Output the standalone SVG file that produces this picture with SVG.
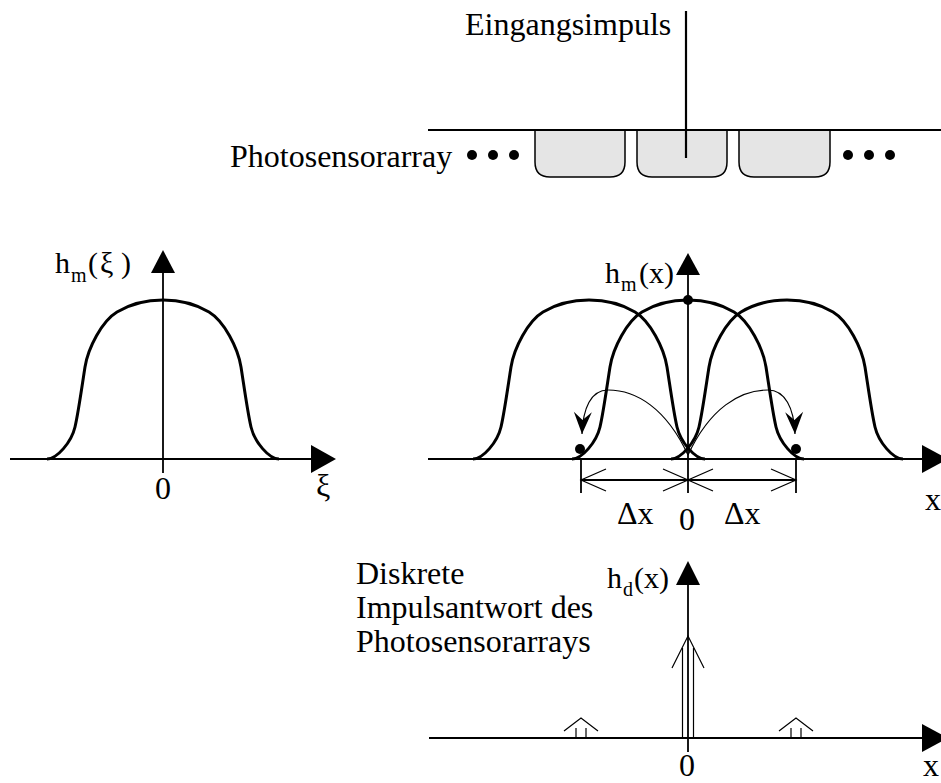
<svg xmlns="http://www.w3.org/2000/svg" width="941" height="783" viewBox="0 0 941 783">
<style>
text{font-family:"Liberation Serif","Times New Roman",serif;fill:#000}
.t{font-size:32px}
.lb{font-size:30px}
.sub{font-size:20px}
.ax{stroke:#000;stroke-width:1.8;fill:none}
.thin{stroke:#000;stroke-width:1.2;fill:none}
.curve{stroke:#000;stroke-width:3;fill:none}
.head{fill:#000;stroke:none}
.box{fill:#e5e5e5;stroke:#000;stroke-width:1.5}
</style>
<defs>
<path id="hump" d="M -116,0 C -106,0 -91.5,-17 -88,-32 C -84.5,-47 -81,-73 -78,-92 C -75,-111 -61,-138 -46,-147 C -31,-156 -15,-159 0,-159 C 15,-159 31,-156 46,-147 C 61,-138 75,-111 78,-92 C 81,-73 84.5,-47 88,-32 C 91.5,-17 106,0 116,0"/>
<marker id="barb" markerUnits="userSpaceOnUse" viewBox="-24 -10 26 20" refX="0" refY="0" markerWidth="26" markerHeight="20" orient="auto">
<path d="M0,0 L-22,-9 L-14,0 L-22,9 Z" fill="#000"/>
</marker>
</defs>
<rect width="941" height="783" fill="#fff"/>

<g id="sensor-array">
<path class="box" d="M535,130 V162 Q535,177 550,177 H610 Q625,177 625,162 V130 Z"/>
<path class="box" d="M637,130 V162 Q637,177 652,177 H712 Q727,177 727,162 V130 Z"/>
<path class="box" d="M739,130 V162 Q739,177 754,177 H815 Q830,177 830,162 V130 Z"/>
<line class="ax" x1="428" y1="130" x2="941" y2="130"/>
<circle cx="472" cy="155" r="5"/><circle cx="493" cy="155" r="5"/><circle cx="514" cy="155" r="5"/>
<circle cx="848" cy="155" r="5"/><circle cx="869" cy="155" r="5"/><circle cx="890" cy="155" r="5"/>
<text class="t" x="230" y="167">Photosensorarray</text>
</g>

<g id="input-impulse">
<line class="ax" x1="686" y1="11" x2="686" y2="158" style="stroke-width:2.2"/>
<text class="t" x="465" y="35">Eingangsimpuls</text>
</g>

<g id="plot-left">
<line class="ax" x1="10" y1="459" x2="312" y2="459"/>
<polygon class="head" points="311,445 336,459 311,473"/>
<line class="ax" x1="163" y1="270" x2="163" y2="473"/>
<polygon class="head" points="163,250 151,273 175,273"/>
<use href="#hump" class="curve" transform="translate(163,459)"/>
<text class="lb" x="55" y="273">h</text>
<text class="sub" x="71" y="282">m</text>
<text class="lb" x="88" y="273">(</text>
<text class="lb" x="100" y="273">ξ</text>
<text class="lb" x="121" y="273">)</text>
<text class="t" x="155" y="499">0</text>
<text class="t" x="316" y="496">ξ</text>
</g>

<g id="plot-middle">
<line class="ax" x1="428" y1="459" x2="924" y2="459"/>
<polygon class="head" points="922,445 948,459 922,473"/>
<line class="ax" x1="688" y1="270" x2="688" y2="493"/>
<polygon class="head" points="688,253 676,275 700,275"/>
<use href="#hump" class="curve" transform="translate(589,459)"/>
<use href="#hump" class="curve" transform="translate(688,459)"/>
<use href="#hump" class="curve" transform="translate(787,459)"/>
<circle cx="688" cy="300" r="5"/>
<circle cx="580" cy="449" r="5"/>
<circle cx="796" cy="449" r="5"/>
<text class="lb" x="605" y="283">h</text>
<text class="sub" x="621" y="291">m</text>
<text class="lb" x="639" y="283">(x)</text>
<text class="t" x="925" y="510">x</text>
</g>

<g id="dimension">
<line class="ax" x1="581" y1="459" x2="581" y2="493"/>
<line class="ax" x1="796" y1="459" x2="796" y2="493"/>
<line class="ax" x1="581" y1="480" x2="796" y2="480"/>
<polyline class="thin" points="606,469 581,480 606,491"/>
<polyline class="thin" points="663,469 688,480 663,491"/>
<polyline class="thin" points="713,469 688,480 713,491"/>
<polyline class="thin" points="771,469 796,480 771,491"/>
<text class="t" x="617" y="524">Δx</text>
<text class="t" x="679" y="530">0</text>
<text class="t" x="724" y="524">Δx</text>
</g>

<g id="connectors">
<path class="thin" d="M688,455 C666,408 636,390 608,390 C591,390 583,408 582,434" marker-end="url(#barb)"/>
<path class="thin" d="M688,455 C710,408 740,390 768,390 C785,390 794,408 795,434" marker-end="url(#barb)"/>
</g>

<g id="plot-bottom">
<line class="ax" x1="429" y1="738" x2="924" y2="738"/>
<polygon class="head" points="922,724 948,738 922,752"/>
<line class="ax" x1="688" y1="582" x2="688" y2="752"/>
<polygon class="head" points="688,561 676,585 700,585"/>
<line class="thin" x1="682.5" y1="648" x2="682.5" y2="738"/>
<line class="thin" x1="693.5" y1="648" x2="693.5" y2="738"/>
<polyline class="thin" points="672,668 688,636 704,668"/>
<line class="thin" x1="576" y1="728" x2="576" y2="738"/>
<line class="thin" x1="586" y1="728" x2="586" y2="738"/>
<polyline class="thin" points="564,731 581,718 598,731"/>
<line class="thin" x1="791" y1="728" x2="791" y2="738"/>
<line class="thin" x1="801" y1="728" x2="801" y2="738"/>
<polyline class="thin" points="779,731 796,718 813,731"/>
<text class="lb" x="607" y="588">h</text>
<text class="sub" x="623" y="596">d</text>
<text class="lb" x="634" y="588">(x)</text>
<text class="t" x="679" y="776">0</text>
<text class="t" x="923" y="776">x</text>
<text class="t" x="356" y="584">Diskrete</text>
<text class="t" x="356" y="618">Impulsantwort des</text>
<text class="t" x="356" y="652">Photosensorarrays</text>
</g>
</svg>
